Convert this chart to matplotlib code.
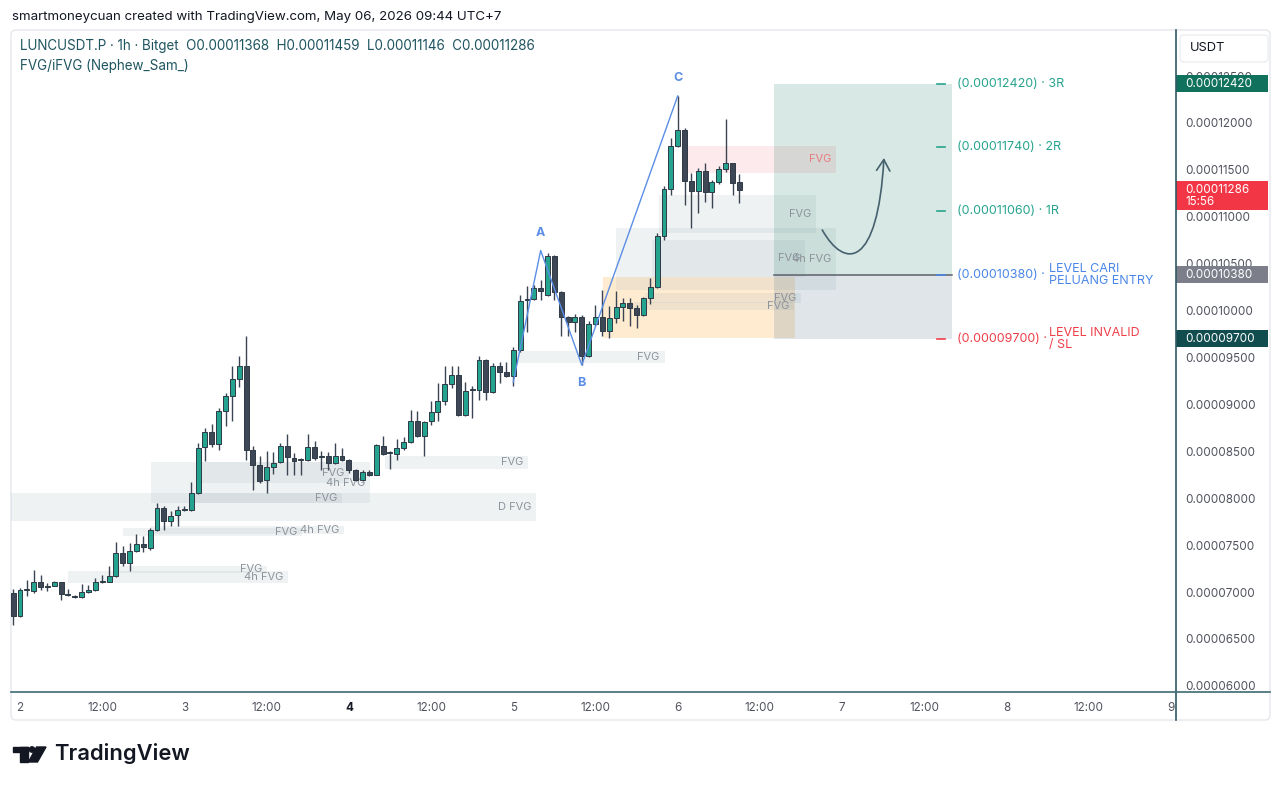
import numpy as np
import matplotlib
matplotlib.use("Agg")
import matplotlib.pyplot as plt
from matplotlib.patches import Rectangle, FancyBboxPatch, FancyArrowPatch, Circle, Polygon
from matplotlib.path import Path
from matplotlib.lines import Line2D
from matplotlib.ticker import FuncFormatter
from matplotlib.transforms import blended_transform_factory

plt.rcParams['font.family'] = ['Inter', 'DejaVu Sans']

# --- data -------------------------------------------------------------
# 1h candles, hour 0 = day 2 00:00, prices in 1e-8 USDT
first_hour = -1
opens = [6991, 6742, 7019, 7008, 7108, 7055, 7069, 7104, 6984, 6962,
         6945, 7001, 7019, 7108, 7108, 7168, 7417, 7310, 7442, 7513,
         7470, 7658, 7896, 7754, 7821, 7871, 7871, 8056, 8542, 8705,
         8578, 8925, 9092, 9270, 9412, 8517, 8358, 8190, 8333, 8382,
         8553, 8428, 8403, 8410, 8542, 8435, 8446, 8375, 8446, 8411,
         8297, 8190, 8276, 8251, 8560, 8482, 8474, 8531, 8595, 8819,
         8659, 8819, 8915, 9032, 9220, 9316, 8883, 9149, 9156, 9476,
         9128, 9412, 9341, 9298, 9575, 10115, 10122, 10239, 10168, 10584,
         10193, 9937, 9874, 9937, 9511, 9856, 9930, 9778, 9920, 10037,
         10080, 10026, 9955, 10133, 10250, 10800, 11294, 11755, 11926, 11386,
         11279, 11489, 11269, 11375, 11507, 11570, 11368]
highs = [7033, 7044, 7125, 7232, 7179, 7097, 7115, 7108, 7033, 6973,
         7090, 7080, 7150, 7186, 7275, 7534, 7488, 7523, 7619, 7594,
         7683, 7949, 7921, 7860, 7914, 7914, 8169, 8588, 8748, 8790,
         8961, 9121, 9405, 9511, 9731, 8553, 8453, 8500, 8489, 8588,
         8687, 8482, 8425, 8687, 8606, 8499, 8489, 8588, 8535, 8418,
         8311, 8304, 8297, 8577, 8659, 8499, 8631, 8652, 8943, 8925,
         8819, 9032, 9227, 9412, 9412, 9412, 9234, 9192, 9511, 9483,
         9440, 9447, 9447, 9610, 10168, 10264, 10274, 10328, 10619, 10591,
         10204, 9945, 9966, 9955, 9884, 10062, 10222, 10044, 10214, 10133,
         10133, 10062, 10143, 10346, 10825, 11329, 11837, 12288, 11943, 11471,
         11517, 11578, 11393, 11542, 12039, 11578, 11459]
lows = [6653, 6735, 6955, 6991, 7026, 7008, 7062, 6913, 6955, 6941,
        6934, 6991, 7008, 7097, 7104, 7161, 7275, 7229, 7424, 7431,
        7452, 7647, 7665, 7701, 7701, 7860, 7860, 8049, 8400, 8542,
        8517, 8773, 8819, 9185, 8404, 8091, 8162, 8056, 8262, 8375,
        8251, 8251, 8251, 8393, 8403, 8304, 8304, 8368, 8393, 8269,
        8180, 8180, 8240, 8244, 8464, 8311, 8411, 8517, 8588, 8652,
        8453, 8783, 8819, 8996, 9174, 8872, 8872, 8854, 9050, 9043,
        9121, 9227, 9291, 9192, 9564, 9777, 10115, 10115, 10151, 10108,
        9724, 9724, 9767, 9423, 9504, 9831, 9724, 9707, 9867, 9884,
        9831, 9813, 9945, 10072, 10239, 10754, 11233, 11748, 11127, 10878,
        11045, 11162, 11091, 11350, 11482, 11233, 11146]
closes = [6742, 7019, 7030, 7108, 7055, 7062, 7104, 6984, 6966, 6948,
          7001, 7019, 7108, 7122, 7168, 7417, 7310, 7442, 7513, 7481,
          7658, 7896, 7754, 7814, 7878, 7878, 8056, 8539, 8705, 8578,
          8925, 9092, 9270, 9412, 8517, 8358, 8180, 8336, 8378, 8553,
          8439, 8400, 8414, 8542, 8428, 8439, 8375, 8446, 8403, 8297,
          8190, 8276, 8251, 8563, 8474, 8485, 8535, 8595, 8826, 8659,
          8812, 8915, 9032, 9220, 9316, 8883, 9138, 9163, 9476, 9128,
          9412, 9341, 9298, 9575, 10107, 10125, 10239, 10214, 10584, 10193,
          9937, 9874, 9937, 9511, 9856, 9930, 9778, 9920, 10037, 10076,
          10026, 9955, 10133, 10250, 10800, 11294, 11755, 11926, 11386, 11279,
          11489, 11269, 11375, 11507, 11570, 11365, 11286]

# zigzag drawing
zz_hours = [72, 76, 82, 96]
zz_prices = [9240, 10640, 9420, 12288]
zz_labels = ['', 'A', 'B', 'C']

# FVG zones (start hour, end hour, top, bottom, label, kind)
fvg_start = [7.0, 14.0, 19.0, 15.0, -1.3, 19.1, 26.6, 25.0, 53.3, 72.3,
             85.1, 87.0, 92.2, 91.2, 89.0, 93.3, 97.1]
fvg_end = [39.1, 36.1, 47.3, 41.2, 75.3, 51.1, 48.0, 47.0, 74.2, 94.1,
           113.1, 119.1, 114.6, 114.0, 113.0, 116.2, 119.1]
fvg_top = [7224, 7278, 7704, 7683, 8056, 8386, 8386, 8056, 8450, 9570,
           10358, 10881, 10753, 10188, 10092, 11233, 11755]
fvg_bot = [7096, 7203, 7619, 7597, 7757, 7949, 8162, 7949, 8312, 9442,
           9708, 10220, 10358, 10081, 10007, 10827, 11467]
fvg_text = ['4h FVG', 'FVG', '4h FVG', 'FVG', 'D FVG', '4h FVG', 'FVG', 'FVG', 'FVG', 'FVG',
            '', '4h FVG', 'FVG', 'FVG', 'FVG', 'FVG', 'FVG']
fvg_kind = ['g', 'g', 'g', 'g', 'g', 'g', 'g', 'g', 'g', 'g',
            'o', 'g', 'g', 'g', 'g', 'g', 'r']

# long position tool
pos_start, pos_end = 110, 136
entry, stop = 10380, 9700
targets = [11060, 11740, 12420]
target_names = ['1R', '2R', '3R']

# hand drawn arrow (bezier points)
arrow_hours = [117.1, 120.4, 125.2, 126.1]
arrow_prices = [10859, 10433, 10454, 11627]

x_ticks = list(range(0, 169, 12))
x_labels = ['2', '12:00', '3', '12:00', '4', '12:00', '5', '12:00',
            '6', '12:00', '7', '12:00', '8', '12:00', '9']
y_ticks = list(range(6000, 12501, 500))
countdown = '15:56'

S = 1e-8
W, H = 1280, 788


def fx(x):
    return x / W


def fy(y):
    return 1 - y / H


fig = plt.figure(figsize=(W / 100, H / 100), dpi=100)
fig.patch.set_facecolor('white')

# panel frame
fig.patches.append(FancyBboxPatch((11 / 100, (H - 720) / 100), 1259 / 100, 690 / 100,
                                  boxstyle='round,pad=0,rounding_size=0.05',
                                  transform=fig.dpi_scale_trans, facecolor='white',
                                  edgecolor='#e4e7ec', linewidth=1, zorder=-2))

ax = fig.add_axes([fx(11), fy(692), (1176 - 11) / W, (692 - 30) / H])
ax.set_facecolor('none')
ymin, ymax = 5934.5 * S, 12991 * S
ax.set_xlim(-1.31, 168.73)
ax.set_ylim(ymin, ymax)
for sp in ax.spines.values():
    sp.set_visible(False)

upp = (ymax - ymin) / (692 - 30)  # price per pixel

# FVG boxes
styles = {'g': ('#9fb0ba', 0.16, '#8d939b'),
          'r': ('#f23645', 0.10, '#e87a7e'),
          'o': ('#ff9800', 0.19, '#8d939b')}
for x0, x1, t, b, txt, k in zip(fvg_start, fvg_end, fvg_top, fvg_bot, fvg_text, fvg_kind):
    fc, al, tc = styles[k]
    ax.add_patch(Rectangle((x0, b * S), x1 - x0, (t - b) * S, facecolor=fc,
                           alpha=al, edgecolor='none', zorder=1))
    if txt:
        ax.annotate(txt, (x1, (t + b) / 2 * S), xytext=(-3.5, 0), textcoords='offset points',
                    ha='right', va='center', fontsize=8, color=tc, zorder=2)

# position tool
ax.add_patch(Rectangle((pos_start, entry * S), pos_end - pos_start, (targets[-1] - entry) * S,
                       facecolor='#3d8f7a', alpha=0.2, edgecolor='none', zorder=1))
ax.add_patch(Rectangle((pos_start, stop * S), pos_end - pos_start, (entry - stop) * S,
                       facecolor='#6f8a9e', alpha=0.22, edgecolor='none', zorder=1))
ax.plot([pos_start, pos_end], [entry * S, entry * S], color='#5d606b', lw=1.1, zorder=2)

green_t, blue_t, red_t = '#26a48e', '#4a86e8', '#ef3e4a'
levels = targets + [entry, stop]
level_cols = [green_t] * 3 + [blue_t, red_t]
level_txt = [f'({v * S:.8f}) · {n}' for v, n in zip(targets, target_names)] + \
            [f'({entry * S:.8f}) ·', f'({stop * S:.8f}) ·']
for lv, c, tx in zip(levels, level_cols, level_txt):
    ax.plot([133.8, 135.0], [lv * S, lv * S], color=c, lw=1.2, zorder=3)
    ax.annotate(tx, (pos_end, lv * S), xytext=(4, 0), textcoords='offset points',
                ha='left', va='center', fontsize=9, color=c, annotation_clip=False)
ax.annotate('LEVEL CARI\nPELUANG ENTRY', (pos_end, entry * S), xytext=(70, 0),
            textcoords='offset points', ha='left', va='center', fontsize=9,
            color=blue_t, linespacing=0.95, annotation_clip=False)
ax.annotate('LEVEL INVALID\n/ SL', (pos_end, stop * S), xytext=(70, 0),
            textcoords='offset points', ha='left', va='center', fontsize=9,
            color=red_t, linespacing=0.95, annotation_clip=False)

# curved arrow
verts = [(h, p * S) for h, p in zip(arrow_hours, arrow_prices)]
arr = FancyArrowPatch(path=Path(verts, [Path.MOVETO, Path.CURVE4, Path.CURVE4, Path.CURVE4]),
                      arrowstyle='->,head_length=0.5,head_width=0.3', mutation_scale=16,
                      color='#46606e', lw=1.2, zorder=4)
ax.add_patch(arr)

# candles
o = np.array(opens) * S
h = np.array(highs) * S
l = np.array(lows) * S
c = np.array(closes) * S
xs = np.arange(len(opens)) + first_hour
up = c >= o
wick = '#3a4452'
ax.vlines(xs, l, h, color=wick, lw=1, zorder=3)
body_b = np.minimum(o, c)
body_h = np.maximum(np.abs(c - o), upp * 1.2)
ax.bar(xs[up], body_h[up], bottom=body_b[up], width=0.72, color='#24a38e',
       edgecolor='#2e3a46', linewidth=0.7, zorder=4)
ax.bar(xs[~up], body_h[~up], bottom=body_b[~up], width=0.72, color='#3e4756',
       edgecolor='#2e3a46', linewidth=0.7, zorder=4)

# zigzag
zz_col = '#5b8ee6'
ax.plot(zz_hours, np.array(zz_prices) * S, color=zz_col, lw=1, zorder=5)
for hh, pp, lab, dy in zip(zz_hours, zz_prices, zz_labels, [0, 1, -1, 1]):
    if lab:
        ax.annotate(lab, (hh, pp * S), xytext=(0, 13 * dy), textcoords='offset points',
                    ha='center', va='center', fontsize=9, color=zz_col, fontweight='bold')

# axes ticks
ax.yaxis.tick_right()
ax.set_yticks(np.array(y_ticks) * S)
ax.yaxis.set_major_formatter(FuncFormatter(lambda v, _: f'{v:.8f}'))
ax.tick_params(axis='y', length=0, pad=7, labelsize=8.4, labelcolor='#50535e')
ax.set_xticks(x_ticks)
ax.set_xticklabels(x_labels)
ax.tick_params(axis='x', length=0, pad=7.5, labelsize=8.4, labelcolor='#50535e')
ax.get_xticklabels()[4].set_fontweight('bold')
ax.get_xticklabels()[4].set_color('#131722')

# axis lines
fig.add_artist(Line2D([fx(1176), fx(1176)], [fy(30), fy(720)], color='#2e5a64', lw=1.2))
fig.add_artist(Line2D([fx(11), fx(1270)], [fy(692), fy(692)], color='#3d6a72', lw=1.2))

# price tags
tag_tr = blended_transform_factory(ax.transAxes, ax.transData)
tag_w = 92 / 1165
tx0 = 1 + 9 / 1165


def price_tag(level, color, lines):
    top = level * S + 8.5 * upp
    bot = level * S - (8.5 + 12 * (len(lines) - 1)) * upp
    ax.add_patch(Rectangle((1.0, bot), tag_w, top - bot, transform=tag_tr, facecolor=color,
                           edgecolor='none', clip_on=False, zorder=6))
    for i, s in enumerate(lines):
        ax.text(tx0, level * S - 12.5 * i * upp, s, transform=tag_tr, color='white',
                fontsize=8.4, va='center', ha='left', zorder=7, clip_on=False)


price_tag(targets[-1], '#10725c', [f'{targets[-1] * S:.8f}'])
price_tag(closes[-1], '#f23645', [f'{closes[-1] * S:.8f}', countdown])
price_tag(entry, '#7c7f8a', [f'{entry * S:.8f}'])
price_tag(stop, '#114d4f', [f'{stop * S:.8f}'])

# header texts
fig.text(fx(12), fy(17), 'smartmoneycuan created with TradingView.com, May 06, 2026 09:44 UTC+7',
         fontsize=9.6, color='#131722', va='center')
sym = (f'LUNCUSDT.P · 1h · Bitget  O{opens[-1] * S:.8f}  H{highs[-1] * S:.8f}  '
       f'L{lows[-1] * S:.8f}  C{closes[-1] * S:.8f}')
fig.text(fx(20), fy(46), sym, fontsize=9.7, color='#1f5560', va='center')
fig.text(fx(20), fy(66), 'FVG/iFVG (Nephew_Sam_)', fontsize=9.7, color='#1f5560', va='center')

# currency box
fig.patches.append(FancyBboxPatch((1180 / 100, (H - 62) / 100), 88 / 100, 27 / 100,
                                  boxstyle='round,pad=0,rounding_size=0.04',
                                  transform=fig.dpi_scale_trans, facecolor='white',
                                  edgecolor='#eceef2', linewidth=1, zorder=1))
fig.text(fx(1190), fy(48), 'USDT', fontsize=9.3, color='#131722', va='center')

# TradingView logo
fig.patches.append(Rectangle((fx(13), fy(752)), fx(28) - fx(13), fy(747) - fy(752),
                             transform=fig.transFigure, color='#131722'))
fig.patches.append(Rectangle((fx(20), fy(762)), fx(28) - fx(20), fy(747) - fy(762),
                             transform=fig.transFigure, color='#131722'))
fig.patches.append(Circle((32 / 100, (H - 749.5) / 100), 2.7 / 100,
                          transform=fig.dpi_scale_trans, color='#131722'))
fig.patches.append(Polygon([(36.5 / 100, (H - 747) / 100), (46 / 100, (H - 747) / 100),
                            (37.5 / 100, (H - 762) / 100), (28.5 / 100, (H - 762) / 100)],
                           transform=fig.dpi_scale_trans, color='#131722'))
fig.text(fx(54), fy(754), 'TradingView', fontsize=15.8, fontweight='semibold',
         color='#131722', va='center')

fig.savefig('out.png', dpi=100, facecolor='white')
